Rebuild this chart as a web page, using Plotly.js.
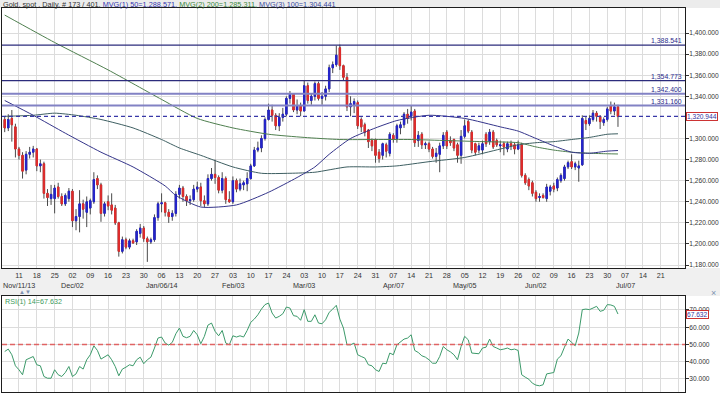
<!DOCTYPE html>
<html><head><meta charset="utf-8">
<script src="https://cdn.plot.ly/plotly-3.0.1.min.js"></script>
<style>html,body{margin:0;padding:0;background:#fff;}#chart{width:720px;height:394px;}</style>
</head><body><div id="chart"></div>
<script>
// ---------- DATA ----------
const startDate = '2013-11-05';          // first bar (trading days, weekdays only)
const barCount = 173;
const openP = [1318,1310,1319,1311,1290,1284,1270,1285,1287,1290,1274,1276,1248,1243,1243,1254,1245,1238,1243,1250,
1222,1226,1238,1230,1234,1240,1262,1256,1229,1240,1237,1234,1220,1193,1204,1197,1203,1202,1210,1215,
1205,1202,1204,1225,1238,1239,1230,1226,1229,1247,1253,1245,1241,1242,1252,1254,1241,1238,1262,1266,
1263,1251,1262,1242,1240,1260,1252,1256,1257,1262,1274,1289,1291,1300,1318,1327,1322,1312,1320,1323,
1338,1342,1327,1331,1326,1350,1336,1340,1352,1338,1340,1347,1367,1370,1386,1369,1358,1330,1332,1334,
1318,1313,1308,1298,1299,1287,1284,1294,1286,1303,1300,1310,1313,1323,1321,1326,1298,1304,1294,1295,
1290,1283,1285,1293,1306,1298,1299,1294,1284,1302,1316,1306,1295,1289,1289,1304,1297,1306,1298,1293,
1295,1290,1295,1294,1290,1294,1265,1261,1258,1249,1244,1246,1243,1250,1255,1253,1260,1262,1273,1278,
1273,1272,1275,1317,1314,1318,1324,1321,1315,1318,1331,1326,1330];
const highP = [1321,1323,1327,1314,1292,1287,1288,1292,1293,1291,1280,1278,1252,1256,1256,1258,1248,1248,1253,1252,
1233,1251,1242,1245,1243,1268,1265,1258,1240,1246,1248,1237,1221,1207,1206,1205,1205,1214,1219,1217,
1207,1206,1228,1240,1248,1240,1233,1232,1250,1256,1255,1247,1246,1256,1259,1258,1246,1266,1272,1280,
1265,1268,1264,1250,1264,1262,1262,1260,1268,1276,1292,1297,1303,1320,1333,1332,1324,1324,1329,1340,
1345,1343,1337,1334,1355,1353,1343,1354,1354,1344,1350,1370,1373,1388,1389,1370,1362,1340,1338,1336,
1320,1315,1309,1300,1300,1290,1296,1296,1306,1305,1314,1316,1325,1328,1331,1328,1307,1306,1297,1297,
1292,1291,1296,1306,1308,1302,1300,1296,1308,1318,1318,1308,1296,1296,1298,1306,1309,1308,1300,1298,
1297,1297,1298,1296,1298,1296,1267,1263,1260,1251,1248,1248,1257,1256,1258,1263,1267,1275,1279,1285,
1278,1279,1322,1321,1322,1327,1326,1322,1320,1330,1335,1334,1332];
const lowP = [1306,1307,1297,1282,1280,1262,1266,1281,1282,1269,1268,1243,1236,1237,1229,1243,1236,1236,1240,1216,
1213,1211,1224,1216,1228,1238,1252,1221,1226,1232,1228,1218,1188,1191,1195,1195,1200,1199,1206,1202,
1183,1200,1202,1222,1230,1226,1220,1222,1226,1243,1240,1236,1237,1240,1249,1236,1235,1236,1260,1257,
1248,1248,1238,1239,1238,1249,1250,1251,1250,1261,1273,1287,1287,1298,1317,1316,1308,1307,1316,1321,
1333,1325,1323,1321,1326,1333,1332,1336,1336,1332,1336,1344,1362,1368,1365,1355,1326,1321,1324,1309,
1306,1302,1291,1288,1277,1277,1280,1282,1283,1296,1296,1304,1310,1314,1317,1292,1292,1290,1290,1287,
1281,1277,1268,1290,1290,1293,1288,1277,1276,1300,1305,1286,1284,1286,1285,1292,1294,1290,1292,1287,
1284,1287,1289,1285,1289,1263,1256,1251,1245,1240,1240,1243,1240,1246,1249,1250,1258,1260,1271,1271,
1270,1259,1274,1308,1312,1316,1316,1309,1312,1316,1323,1322,1311];
const closeP = [1310,1318,1313,1290,1284,1269,1285,1287,1290,1274,1276,1248,1244,1247,1253,1245,1238,1246,1250,1222,
1226,1238,1233,1240,1241,1261,1256,1229,1238,1236,1232,1220,1193,1204,1197,1203,1201,1212,1215,1205,
1202,1204,1225,1238,1239,1230,1226,1229,1247,1253,1245,1241,1242,1252,1254,1241,1238,1262,1266,1263,
1251,1262,1242,1240,1260,1252,1257,1258,1262,1274,1289,1291,1300,1318,1327,1322,1312,1320,1323,1338,
1342,1327,1331,1326,1350,1336,1340,1352,1338,1340,1347,1367,1370,1379,1369,1358,1330,1333,1335,1312,
1311,1306,1297,1293,1284,1281,1295,1288,1304,1299,1312,1313,1323,1319,1325,1296,1303,1294,1295,1290,
1283,1286,1293,1303,1293,1296,1291,1284,1302,1312,1307,1289,1287,1293,1295,1295,1306,1292,1294,1294,
1292,1295,1293,1290,1294,1265,1258,1255,1248,1243,1245,1244,1254,1254,1252,1261,1265,1273,1277,1273,
1276,1274,1319,1314,1319,1324,1321,1316,1318,1328,1326,1330,1320.944];

// moving averages read at selected bars (bar index -> value)
const ma50Idx = [0,8,17,27,36,45,48,55,65,74,82,87,91,97,104,110,119,129,139,144,149,154,159,164,169,172];
const ma50Val = [1336,1322,1305,1287,1273,1255,1246,1235,1237,1249,1263,1273,1285,1300,1310,1317,1322,1319,1311,1307,1300,1293,1287,1286,1288,1288.571];
const ma200Idx = [0,14,29,44,54,64,74,84,94,104,114,124,134,144,149,154,159,164,169,172];
const ma200Val = [1417,1391,1365,1337,1319,1310,1304,1301,1299,1299,1299,1298,1297,1296,1292,1289,1287,1286,1285.5,1285.311];
const ma100Idx = [0,8,14,20,27,36,44,49,55,64,72,80,87,96,104,110,119,129,139,144,149,154,159,164,169,172];
const ma100Val = [1321,1322,1324,1322,1318,1310,1299,1291,1284,1273,1267,1267,1268,1273,1273,1274,1278,1282,1290,1294,1296,1297,1299,1301,1304,1304.441];

const rsiVal = [45.9,47.3,44.0,37.6,35.3,32.4,41.1,42.1,43.0,38.2,37.6,31.4,30.4,30.4,35.3,32.4,31.4,33.7,37.2,31.4,
32.9,37.2,35.7,41.1,44.0,49.2,46.5,41.5,43.0,44.0,41.1,37.2,31.8,35.7,36.8,38.2,37.6,41.1,42.6,38.8,
41.1,42.6,47.9,53.7,54.3,50.8,49.6,51.2,56.2,59.5,54.7,53.9,54.7,58.1,55.6,50.4,54.7,61.2,62.4,57.6,
55.0,58.1,50.8,49.8,55.0,54.3,55.0,54.3,58.1,62.8,64.7,67.2,70.5,73.1,74.0,68.2,65.3,66.3,67.8,71.7,
71.1,66.7,66.3,64.0,70.2,63.4,63.4,67.2,62.4,62.0,64.3,68.6,70.5,72.7,64.7,59.5,49.8,49.8,50.8,44.0,
43.0,42.1,38.2,37.6,35.3,34.3,39.1,38.8,45.0,44.0,49.8,51.7,53.1,53.7,55.6,46.5,45.3,43.4,42.6,41.1,
39.1,39.1,43.0,48.8,46.9,45.7,44.0,41.1,48.8,54.7,52.7,45.0,44.6,44.6,47.9,48.4,53.1,48.8,47.9,46.9,
47.3,47.9,46.9,47.3,46.5,32.4,31.0,29.8,27.5,26.4,26.0,26.6,32.9,33.3,33.7,41.5,43.4,48.4,53.1,51.2,
49.2,56.6,70.2,70.5,70.2,71.1,72.1,69.2,69.8,73.1,72.9,72.1,67.632];

const levelVals = [1388.541,1354.773,1342.400,1331.160];
const levelText = ['1,388.541','1,354.773','1,342.400','1,331.160'];
const lastPrice = 1320.944, lastPriceText = '1,320.944';
const lastRsi = 67.632, lastRsiText = '67.632';
const priceTicks = [1180,1200,1220,1240,1260,1280,1300,1340,1360,1380,1400];
const rsiTicks = [30,40,50,60,70];
const monthLabelDates = ['2013-11-11','2013-12-02','2014-01-06','2014-02-03','2014-03-03','2014-04-07','2014-05-05','2014-06-02','2014-07-07'];
const monthLabelText = ['Nov/11/13','Dec/02','Jan/06/14','Feb/03','Mar/03','Apr/07','May/05','Jun/02','Jul/07'];
const lastLabelledMonday = '2014-07-21';
const titleParts = [['Gold, spot , Daily, # 173 / 401, ','#333333'],['MVG(1) 50=1,288.571, ','#3535b0'],['MVG(2) 200=1,285.311, ','#3a8a3a'],['MVG(3) 100=1,304.441','#3a4aa0']];
const rsiLabel = 'RSI(1) 14=67.632';

// ---------- BUILD ----------
function tradingDates(start, n){
  const out=[]; const d=new Date(start+'T00:00:00Z');
  while(out.length<n){ const w=d.getUTCDay(); if(w!==0&&w!==6) out.push(new Date(d.getTime())); d.setUTCDate(d.getUTCDate()+1); }
  return out;
}
const dates = tradingDates(startDate, 195);
const iso = dates.map(d=>d.toISOString().slice(0,10));
const idx = closeP.map((_,i)=>i);
const xr = [-0.76, 190.8];
const lastLab = iso.indexOf(lastLabelledMonday);
const mondayIdx=[], mondayTxt=[];
dates.forEach((d,i)=>{ if(d.getUTCDay()===1 && i<=190){ mondayIdx.push(i); mondayTxt.push(i<=lastLab ? String(d.getUTCDate()).padStart(2,'0') : ''); }});

const BLUE='#2424cc', RED='#e02c2c', WICK='#4a4a4a';
const bodyHi = openP.map((o,i)=>Math.max(o,closeP[i]));
const bodyLo = openP.map((o,i)=>Math.min(o,closeP[i]));

const traces = [
 {type:'candlestick', x:idx, open:openP, high:highP, low:lowP, close:closeP, xaxis:'x', yaxis:'y',
  increasing:{line:{color:WICK,width:1}, fillcolor:BLUE}, decreasing:{line:{color:WICK,width:1}, fillcolor:RED}, whiskerwidth:0, hoverinfo:'skip'},
 {type:'candlestick', x:idx, open:openP, high:bodyHi, low:bodyLo, close:closeP, xaxis:'x', yaxis:'y',
  increasing:{line:{color:BLUE,width:1}, fillcolor:BLUE}, decreasing:{line:{color:RED,width:1}, fillcolor:RED}, whiskerwidth:0, hoverinfo:'skip'},
 {type:'scatter', mode:'lines', x:ma200Idx, y:ma200Val, line:{color:'#4f7f4f',width:1,shape:'spline',smoothing:0.6}, xaxis:'x', yaxis:'y'},
 {type:'scatter', mode:'lines', x:ma100Idx, y:ma100Val, line:{color:'#3e5f62',width:1,shape:'spline',smoothing:0.6}, xaxis:'x', yaxis:'y'},
 {type:'scatter', mode:'lines', x:ma50Idx, y:ma50Val, line:{color:'#34348a',width:1,shape:'spline',smoothing:0.6}, xaxis:'x', yaxis:'y'},
 {type:'scatter', mode:'lines', x:idx, y:rsiVal, line:{color:'#3c9a6a',width:1}, xaxis:'x2', yaxis:'y2'}
];

const W=720,H=394;
const px = v=>v/W, py = v=>(H-v)/H;
const GRID='#dcdcdc';
const FONT='Liberation Sans, Arial, sans-serif';
const TF = 6.6;

const shapes = [
 {type:'rect',xref:'paper',yref:'paper',x0:0,x1:1,y0:py(8),y1:1,fillcolor:'#ececec',line:{width:0},layer:'below'},
 {type:'rect',xref:'paper',yref:'paper',x0:0,x1:1,y0:py(296),y1:py(268),fillcolor:'#f0f0f0',line:{width:0},layer:'below'},
 {type:'line',xref:'x domain',yref:'y',x0:0,x1:1,y0:lastPrice,y1:lastPrice,line:{color:'#3838a8',width:1.2,dash:'4px,3px'}},
 {type:'line',xref:'x2 domain',yref:'y2',x0:0,x1:1,y0:50,y1:50,line:{color:'#e06464',width:1.6,dash:'5px,3px'}}
];
levelVals.forEach((v,i)=>{
  const light = i>=2;
  shapes.push({type:'line',xref:'x domain',yref:'y',x0:0,x1:1,y0:v,y1:v,
    line:{color: light?'#8282c4':'#2c2c7c', width: light?2:1.3}});
});

const annotations = [];
annotations.push({xref:'paper',yref:'paper',x:px(1),y:py(4.3),xanchor:'left',yanchor:'middle',showarrow:false,
  text: titleParts.map(p=>`<span style="color:${p[1]}">${p[0]}</span>`).join(''), font:{family:FONT,size:7.3}});
levelVals.forEach((v,i)=>annotations.push({xref:'paper',yref:'y',x:px(684),y:v,xanchor:'right',yanchor:'bottom',showarrow:false,
  text:levelText[i],font:{family:FONT,size:6.9,color:'#2c2c8c'},yshift:-1}));
annotations.push({xref:'paper',yref:'y',x:px(686),y:lastPrice,xanchor:'left',yanchor:'middle',showarrow:false,text:lastPriceText,
  font:{family:FONT,size:TF,color:'#3434a0'},bgcolor:'#ffffff',bordercolor:'#cc3333',borderwidth:1,borderpad:0});
annotations.push({xref:'paper',yref:'y2',x:px(686),y:lastRsi,xanchor:'left',yanchor:'middle',showarrow:false,text:lastRsiText,
  font:{family:FONT,size:TF,color:'#3434a0'},bgcolor:'#ffffff',bordercolor:'#cc3333',borderwidth:1,borderpad:0});
annotations.push({xref:'paper',yref:'paper',x:px(3),y:py(301),xanchor:'left',yanchor:'middle',showarrow:false,text:rsiLabel,
  font:{family:FONT,size:7.2,color:'#3c9a5a'}});
annotations.push({xref:'paper',yref:'paper',x:px(17),y:py(292),xanchor:'left',yanchor:'middle',showarrow:false,text:'▲▼',
  font:{family:FONT,size:6,color:'#7f93b0'}});
annotations.push({xref:'paper',yref:'paper',x:px(713),y:py(293),xanchor:'center',yanchor:'middle',showarrow:false,text:'×',
  font:{family:FONT,size:9,color:'#7f93b0'}});
monthLabelDates.forEach((d,i)=>{
  const k = iso.indexOf(d);
  annotations.push({xref:'x',yref:'paper',x:k,y:py(285),xanchor:'center',yanchor:'middle',showarrow:false,text:monthLabelText[i],
    font:{family:FONT,size:7.2,color:'#333'}});
});

const axBase = {showline:true,mirror:true,linecolor:'#1e1e1e',linewidth:1,zeroline:false,gridcolor:GRID,gridwidth:1,showgrid:true};
const layout = {
  width:W,height:H,margin:{l:0,r:0,t:0,b:0},paper_bgcolor:'#ffffff',plot_bgcolor:'#ffffff',
  showlegend:false,boxgap:0.45,hovermode:false,
  font:{family:FONT,size:7.5,color:'#333'},
  xaxis:Object.assign({},axBase,{domain:[px(2),px(685)],range:xr,type:'linear',anchor:'y',tickmode:'array',tickvals:mondayIdx,ticktext:mondayTxt,
    ticks:'',rangeslider:{visible:false},tickfont:{family:FONT,size:7.2,color:'#333'}}),
  yaxis:Object.assign({},axBase,{domain:[py(268),py(8)],range:[1177.2,1423.7],side:'right',anchor:'x',tickmode:'array',tickvals:priceTicks,
    tickformat:',.3f',ticks:'outside',ticklen:3,tickcolor:'#333',ticklabelstandoff:-1,tickfont:{family:FONT,size:TF,color:'#333'}}),
  xaxis2:Object.assign({},axBase,{domain:[px(2),px(685)],range:xr,type:'linear',anchor:'y2',tickmode:'array',tickvals:mondayIdx,showticklabels:false,ticks:''}),
  yaxis2:Object.assign({},axBase,{domain:[py(392),py(296)],range:[22.4,78.1],side:'right',anchor:'x2',tickmode:'array',tickvals:rsiTicks,
    tickformat:'.3f',ticks:'outside',ticklen:3,tickcolor:'#333',ticklabelstandoff:-1,tickfont:{family:FONT,size:TF,color:'#333'}}),
  shapes:shapes,annotations:annotations
};
Plotly.newPlot('chart',traces,layout,{staticPlot:true,displayModeBar:false});
</script></body></html>
